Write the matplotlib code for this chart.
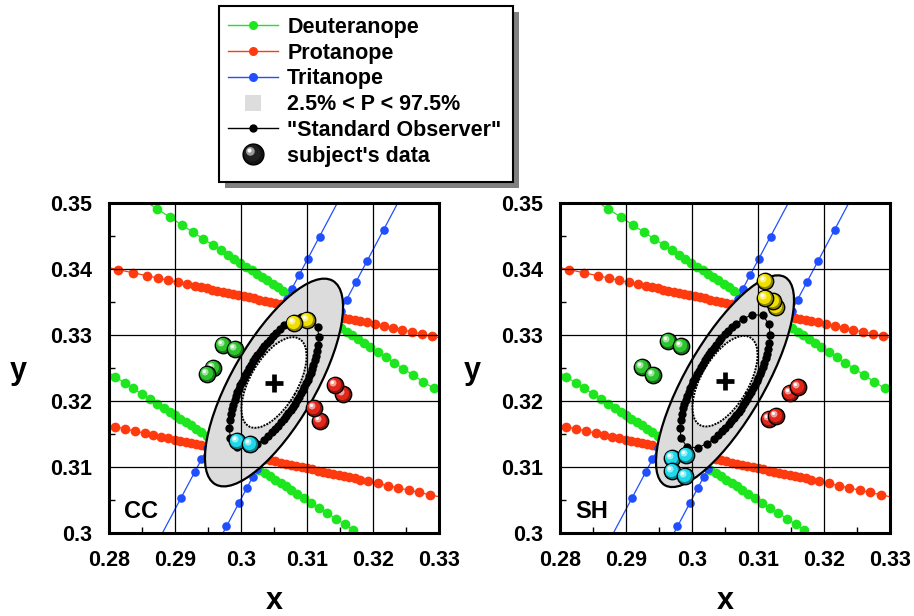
import numpy as np
import matplotlib.pyplot as plt
from matplotlib.patches import Ellipse, Rectangle
from matplotlib.path import Path
from matplotlib.lines import Line2D
from matplotlib.legend_handler import HandlerTuple
from matplotlib.colors import to_rgb

plt.rcParams['font.family'] = ['Liberation Sans', 'DejaVu Sans']
plt.rcParams['font.weight'] = 'bold'

"""Confusion lines: anchor point, slope, x of the dots along each line"""
deut_upper_anchor, deut_upper_slope = (0.2873, 0.3491), -0.649
deut_upper_x = [0.2873, 0.2892, 0.2911, 0.2928, 0.2943, 0.2957, 0.2969, 0.2980, 0.2990, 0.2999,
                0.3008, 0.3016, 0.3024, 0.3032, 0.3040, 0.3048, 0.3056, 0.3064, 0.3072, 0.3080,
                0.3088, 0.3096, 0.3104, 0.3112, 0.3120, 0.3128, 0.3136, 0.3144, 0.3152, 0.3160,
                0.3168, 0.3177, 0.3186, 0.3196, 0.3207, 0.3219, 0.3232, 0.3246, 0.3261, 0.3276, 0.3292]
deut_lower_anchor, deut_lower_slope = (0.2809, 0.3237), -0.643
deut_lower_x = [0.2809, 0.2824, 0.2837, 0.2850, 0.2862, 0.2873, 0.2883, 0.2892, 0.2900, 0.2908,
                0.2916, 0.2924, 0.2932, 0.2940, 0.2948, 0.2956, 0.2964, 0.2972, 0.2980, 0.2988,
                0.2996, 0.3004, 0.3012, 0.3020, 0.3028, 0.3036, 0.3044, 0.3052, 0.3060, 0.3068,
                0.3076, 0.3085, 0.3095, 0.3106, 0.3118, 0.3131, 0.3144, 0.3157, 0.3170]
prot_upper_anchor, prot_upper_slope = (0.2814, 0.3399), -0.212
prot_upper_x = [0.2814, 0.2837, 0.2858, 0.2875, 0.2890, 0.2905, 0.2918, 0.2930,
                0.2940, 0.2948, 0.2956, 0.2964, 0.2972, 0.2980, 0.2988, 0.2996, 0.3004, 0.3012,
                0.3020, 0.3028, 0.3036, 0.3044, 0.3052, 0.3060, 0.3068, 0.3076, 0.3084, 0.3092,
                0.3100, 0.3108, 0.3116, 0.3124, 0.3132, 0.3140, 0.3148, 0.3156, 0.3164, 0.3172,
                0.3180, 0.3191, 0.3203, 0.3216, 0.3230, 0.3244, 0.3259, 0.3274, 0.3290]
prot_lower_anchor, prot_lower_slope = (0.2809, 0.3161), -0.216
prot_lower_x = [0.2809, 0.2824, 0.2839, 0.2854, 0.2867, 0.2879, 0.2890, 0.2900,
                0.2908, 0.2916, 0.2924, 0.2932, 0.2940, 0.2948, 0.2956, 0.2964, 0.2972, 0.2980,
                0.2988, 0.2996, 0.3004, 0.3012, 0.3020, 0.3028, 0.3036, 0.3044, 0.3052, 0.3060,
                0.3068, 0.3076, 0.3084, 0.3092, 0.3100, 0.3108, 0.3116, 0.3124, 0.3132, 0.3140,
                0.3148, 0.3156, 0.3164, 0.3172, 0.3180, 0.3193, 0.3207, 0.3222, 0.3238, 0.3254,
                0.3270, 0.3287]
trit_left_anchor, trit_left_slope = (0.2882, 0.3002), 1.887
trit_left_x = [0.2909, 0.2930, 0.2940, 0.2949, 0.2957, 0.3069, 0.3077, 0.3088, 0.3101, 0.3119, 0.3148]
trit_right_anchor, trit_right_slope = (0.2978, 0.3010), 1.888
trit_right_x = [0.2978, 0.2997, 0.3009, 0.3018, 0.3024, 0.3143, 0.3151, 0.3160, 0.3174, 0.3191, 0.3216]

"""Ellipses: (center, width, height, angle)"""
cc_outer = ((0.3050, 0.3228), 0.0356, 0.0127, 60)
sh_outer = ((0.3050, 0.3230), 0.0364, 0.0119, 60)
cc_inner = ((0.3050, 0.3228), 0.0153, 0.0072, 60)
sh_inner = ((0.3050, 0.3230), 0.0153, 0.0072, 60)
cc_std = ((0.3050, 0.3228), 0.0226, 0.0087, 60)
sh_std = ((0.3050, 0.3230), 0.0230, 0.0085, 60)
# parametric angles (deg) of the "Standard Observer" dots on their ellipse
std_angles = [0, 20, 34, 43, 49, 54, 58, 62, 65.5, 69, 72, 75, 78, 81, 84, 87, 90, 93, 96, 99,
              102, 105, 108, 111, 114.5, 118, 122, 126, 131, 137, 146, 160, 180, 200, 214, 223,
              229, 234, 238, 242, 245.5, 249, 252, 255, 258, 261, 264, 267, 270, 273, 276, 279,
              282, 285, 288, 291, 294.5, 298, 302, 306, 311, 317, 326, 340]

"""Subject data"""
cc_green = ([0.2958, 0.2948, 0.2973, 0.2991], [0.3250, 0.3241, 0.3285, 0.3279])
cc_yellow = ([0.3100, 0.3080], [0.3322, 0.3318])
cc_red = ([0.3155, 0.3142, 0.3120, 0.3110], [0.3211, 0.3224, 0.3170, 0.3189])
cc_cyan = ([0.2994, 0.3014], [0.3139, 0.3135])
sh_green = ([0.2963, 0.2984, 0.2924, 0.2941], [0.3291, 0.3284, 0.3252, 0.3240])
sh_yellow = ([0.3128, 0.3122, 0.3111, 0.3111], [0.3343, 0.3351, 0.3356, 0.3382])
sh_red = ([0.3149, 0.3160, 0.3117, 0.3127], [0.3212, 0.3221, 0.3172, 0.3177])
sh_cyan = ([0.2969, 0.2991, 0.2969, 0.2989], [0.3113, 0.3118, 0.3094, 0.3086])

ticks_x = [0.28, 0.29, 0.30, 0.31, 0.32, 0.33]
ticks_y = [0.30, 0.31, 0.32, 0.33, 0.34, 0.35]
tick_x_labels = ['0.28', '0.29', '0.3', '0.31', '0.32', '0.33']
tick_y_labels = ['0.3', '0.31', '0.32', '0.33', '0.34', '0.35']

GREEN, RED, BLUE = '#1ee61e', '#ff3a0e', '#1f4fff'
BALL_GREEN, BALL_RED, BALL_YELLOW, BALL_CYAN = '#2ec42e', '#e3261a', '#f0e000', '#1fd8ea'


def offset_circle(cx, cy, r):
    # marker path: circle off-centre, the two lone points keep the scaling fixed
    return Path.make_compound_path(Path([(1, 1)], [Path.MOVETO]),
                                   Path([(-1, -1)], [Path.MOVETO]),
                                   Path.circle((cx, cy), r))


def mix(c, other, f):
    c, o = np.array(to_rgb(c)), np.array(to_rgb(other))
    return tuple(c * (1 - f) + o * f)


def ball_layers(color, ms=11.8):
    return [dict(marker='o', ms=ms, mfc=mix(color, 'k', 0.4), mec='k', mew=1.0),
            dict(marker=offset_circle(-0.12, 0.12, 0.8), ms=ms, mfc=color, mew=0),
            dict(marker=offset_circle(-0.3, 0.3, 0.42), ms=ms, mfc=mix(color, 'w', 0.55), mew=0),
            dict(marker=offset_circle(-0.38, 0.38, 0.2), ms=ms, mfc='w', mew=0)]


def draw_balls(ax, xs, ys, color):
    for x, y in zip(xs, ys):
        for kw in ball_layers(color):
            ax.plot([x], [y], ls='none', zorder=5, **kw)


def draw_conf_line(ax, anchor, slope, xs, color, ms):
    x0, y0 = anchor
    ends = np.array([0.27, 0.34])
    ax.plot(ends, y0 + slope * (ends - x0), color=color, lw=0.9, zorder=1)
    xs = np.array(xs)
    ax.plot(xs, y0 + slope * (xs - x0), 'o', color=color, ms=ms, mew=0, zorder=1)


def draw_panel(ax, outer, inner, std, balls, name):
    draw_conf_line(ax, deut_upper_anchor, deut_upper_slope, deut_upper_x, GREEN, 7.0)
    draw_conf_line(ax, deut_lower_anchor, deut_lower_slope, deut_lower_x, GREEN, 7.0)
    draw_conf_line(ax, prot_upper_anchor, prot_upper_slope, prot_upper_x, RED, 7.0)
    draw_conf_line(ax, prot_lower_anchor, prot_lower_slope, prot_lower_x, RED, 7.0)
    draw_conf_line(ax, trit_left_anchor, trit_left_slope, trit_left_x, BLUE, 6.2)
    draw_conf_line(ax, trit_right_anchor, trit_right_slope, trit_right_x, BLUE, 6.2)

    c, w, h, ang = outer
    ax.add_patch(Ellipse(c, w, h, angle=ang, fc='#dcdcdc', ec='k', lw=1.6, zorder=2))
    c, w, h, ang = inner
    ax.add_patch(Ellipse(c, w, h, angle=ang, fc='w', ec='k', lw=1.4, ls=(0, (1, 0.6)), zorder=2.1))

    for v in ticks_x[1:-1]:
        ax.axvline(v, color='k', lw=0.9, zorder=2.5)
    for v in ticks_y[1:-1]:
        ax.axhline(v, color='k', lw=0.9, zorder=2.5)

    (cx, cy), w, h, ang = std
    t = np.radians(std_angles)
    th = np.radians(ang)
    a, b = w / 2, h / 2
    sx = cx + a * np.cos(t) * np.cos(th) - b * np.sin(t) * np.sin(th)
    sy = cy + a * np.cos(t) * np.sin(th) + b * np.sin(t) * np.cos(th)
    ax.plot(np.append(sx, sx[0]), np.append(sy, sy[0]), '-', color='k', lw=0.8, zorder=3)
    ax.plot(sx, sy, 'o', color='k', ms=6.0, mew=0, zorder=3)

    ax.plot([cx], [cy], marker='+', color='k', ms=13, mew=3.4, zorder=4)

    for (xs, ys), col in balls:
        draw_balls(ax, xs, ys, col)

    ax.set_xlim(0.28, 0.33)
    ax.set_ylim(0.30, 0.35)
    ax.set_xticks(ticks_x, tick_x_labels)
    ax.set_yticks(ticks_y, tick_y_labels)
    ax.set_xticks([0.285, 0.295, 0.305, 0.315, 0.325], minor=True)
    ax.set_yticks([0.305, 0.315, 0.325, 0.335, 0.345], minor=True)
    ax.tick_params(which='major', length=0, pad=12, labelsize=15.5)
    ax.tick_params(which='minor', direction='in', length=4, width=1)
    for s in ax.spines.values():
        s.set_linewidth(2.2)
        s.set_zorder(6)
    ax.text(0.045, 0.045, name, transform=ax.transAxes, fontsize=17, fontweight='bold', zorder=7)
    ax.text(0.5, -0.205, 'x', transform=ax.transAxes, fontsize=22, fontweight='bold',
            ha='center', va='center')


fig = plt.figure(figsize=(9.14, 6.16), dpi=100)
ax1 = fig.add_axes([109 / 914, 83 / 616, 330 / 914, 330 / 616])
ax2 = fig.add_axes([560 / 914, 83 / 616, 330 / 914, 330 / 616])

draw_panel(ax1, cc_outer, cc_inner, cc_std,
           [(cc_green, BALL_GREEN), (cc_yellow, BALL_YELLOW), (cc_red, BALL_RED), (cc_cyan, BALL_CYAN)], 'CC')
draw_panel(ax2, sh_outer, sh_inner, sh_std,
           [(sh_green, BALL_GREEN), (sh_yellow, BALL_YELLOW), (sh_red, BALL_RED), (sh_cyan, BALL_CYAN)], 'SH')
ax1.text(-0.276, 0.49, 'y', transform=ax1.transAxes, fontsize=22, fontweight='bold', ha='center', va='center')
ax2.text(-0.267, 0.49, 'y', transform=ax2.transAxes, fontsize=22, fontweight='bold', ha='center', va='center')

"""Legend box with shadow"""
fig.add_artist(Rectangle((225 / 914, 1 - 188 / 616), 294 / 914, 176 / 616, transform=fig.transFigure,
                         fc='#808080', ec='none', zorder=0))
fig.add_artist(Rectangle((219 / 914, 1 - 182 / 616), 294 / 914, 176 / 616, transform=fig.transFigure,
                         fc='w', ec='k', lw=1.5, zorder=0.5))

handles = [Line2D([], [], color=GREEN, lw=1, marker='o', ms=6.5, mew=0),
           Line2D([], [], color=RED, lw=1, marker='o', ms=6.5, mew=0),
           Line2D([], [], color=BLUE, lw=1, marker='o', ms=6.5, mew=0),
           Line2D([], [], ls='none', marker='s', ms=12, mfc='#dddddd', mew=0),
           Line2D([], [], color='k', lw=1, marker='o', ms=6, mew=0),
           tuple(Line2D([], [], ls='none', **kw) for kw in ball_layers('#202020', ms=15))]
labels = ['Deuteranope', 'Protanope', 'Tritanope', '2.5% < P < 97.5%',
          '"Standard Observer"', "subject's data"]
fig.legend(handles, labels, loc='upper left', bbox_to_anchor=(228 / 914, 1 - 17 / 616),
           frameon=False, borderpad=0, borderaxespad=0, handlelength=2.33, handletextpad=0.42,
           labelspacing=0.22, prop={'weight': 'bold', 'size': 15.5},
           handler_map={tuple: HandlerTuple(ndivide=1)})

fig.savefig('out.png', dpi=100)
